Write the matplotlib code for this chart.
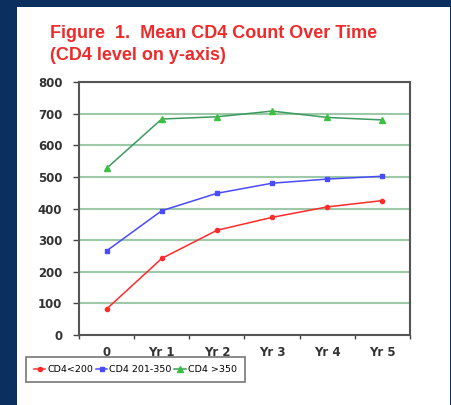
import matplotlib.pyplot as plt
from matplotlib.patches import Rectangle

# mean CD4 count per group at each yearly visit
visits = ['0', 'Yr 1', 'Yr 2', 'Yr 3', 'Yr 4', 'Yr 5']
cd4_low = [82, 242, 331, 372, 405, 425]
cd4_mid = [266, 393, 448, 480, 493, 502]
cd4_high = [527, 683, 690, 708, 688, 680]
y_ticks = [0, 100, 200, 300, 400, 500, 600, 700, 800]

fig = plt.figure(figsize=(4.52, 4.05), dpi=100)
fig.patch.set_facecolor('#0b2f5e')
# white slide panel
fig.patches.append(Rectangle((17/452, 0), 433/452, 1 - 7/405, transform=fig.transFigure,
                             facecolor='white', edgecolor='none', zorder=-1))

ax = fig.add_axes([79/452, 1 - 335/405, 331/452, 253/405])
ax.set_facecolor('white')

x = list(range(len(visits)))
ax.plot(x, cd4_low, color='#ff2a2a', lw=1.1, marker='o', ms=3, label='CD4<200', zorder=3)
ax.plot(x, cd4_mid, color='#4a4aff', lw=1.1, marker='s', ms=3.5, label='CD4 201-350', zorder=3)
ax.plot(x, cd4_high, color='#3c9a60', lw=1.1, marker='^', ms=4.5, mfc='#3cc040', mec='#3cc040',
        label='CD4 >350', zorder=3)

ax.set_xlim(-0.5, 5.5)
ax.set_ylim(0, 800)
ax.set_yticks(y_ticks)
ax.set_xticks([i - 0.5 for i in range(7)], minor=False)
ax.set_xticklabels([])
ax.set_xticks(x, minor=True)
ax.set_xticklabels(visits, minor=True)
ax.tick_params(axis='x', which='major', length=3, width=1, color='#444', direction='out')
ax.tick_params(axis='x', which='minor', length=0, pad=8)
ax.tick_params(axis='y', length=4, width=1, color='#444', pad=8)
for lab in ax.get_yticklabels() + ax.get_xticklabels(minor=True):
    lab.set_fontfamily('DejaVu Sans')
    lab.set_fontweight('bold')
    lab.set_fontsize(8.5)
    lab.set_color('#333333')

ax.grid(axis='y', color='#9ccaa8', lw=1.5, zorder=1)
for s in ax.spines.values():
    s.set_color('#555555')
    s.set_linewidth(1.5)

title_style = dict(color='#ee2a2a', fontsize=13, fontweight='bold', family='Liberation Sans',
                   va='baseline', ha='left')
fig.text(50/452, 1 - 38/405, 'Figure  1.  Mean CD4 Count Over Time', **title_style)
fig.text(50/452, 1 - 60/405, '(CD4 level on y-axis)', **title_style)

leg = fig.legend(loc='upper left', bbox_to_anchor=(26/452, 1 - 357/405), ncol=3,
                 frameon=True, fancybox=False, handlelength=1.2, handletextpad=0.2,
                 columnspacing=0.3, borderpad=0.85, borderaxespad=0,
                 prop={'family': 'DejaVu Sans', 'size': 6.8})
leg.get_frame().set_edgecolor('#555555')
leg.get_frame().set_linewidth(1.2)

fig.savefig('out.png', dpi=100, facecolor=fig.get_facecolor())
